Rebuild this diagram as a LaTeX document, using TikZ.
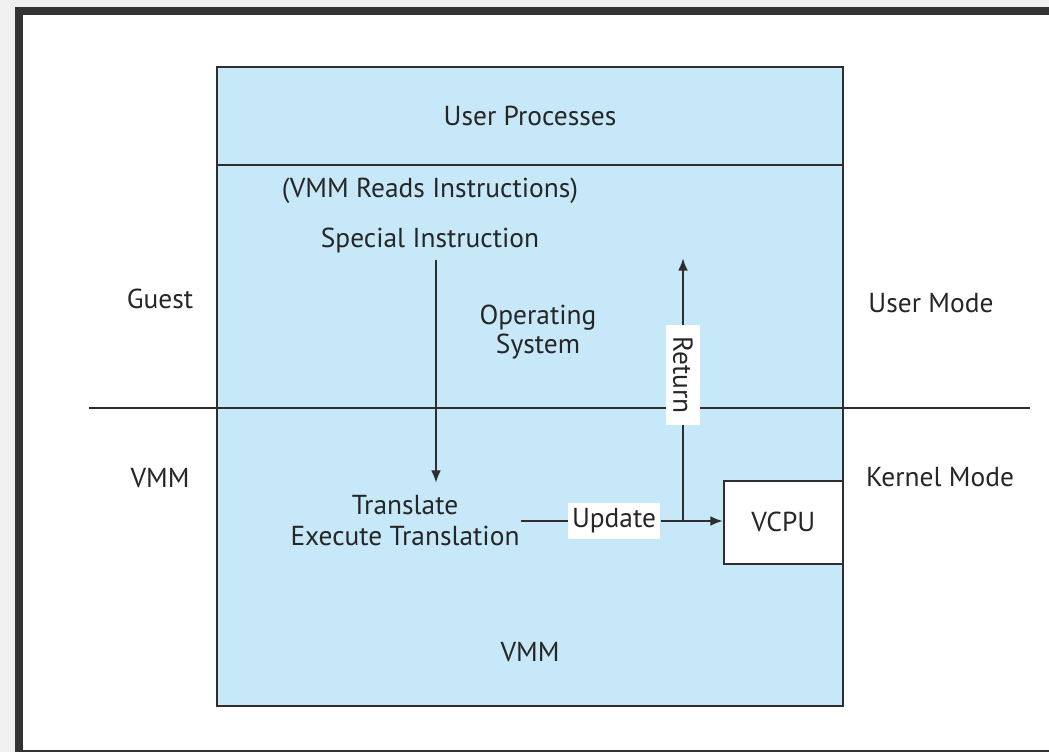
\documentclass[tikz,border=0pt]{standalone}
\usepackage{fontspec}
\setmainfont{PT Sans}
\usetikzlibrary{arrows.meta}
\definecolor{boxblue}{HTML}{C6E8F8}
\definecolor{framegray}{HTML}{333333}
\definecolor{linegray}{HTML}{2E2E2E}
\tikzset{
  lbl/.style={font=\fontsize{19.5}{22}\selectfont, text=black!85, align=center, inner sep=1pt},
  wlbl/.style={lbl, fill=white, inner xsep=3pt, inner ysep=4pt},
  conn/.style={draw=linegray, line width=1.6pt},
  arr/.style={conn, -{Latex[length=9pt,width=7pt]}},
}
\begin{document}
\begin{tikzpicture}[x=0.025cm,y=-0.025cm]
\useasboundingbox (0,0) rectangle (1049,752);
% screenshot surround
\fill[black!6] (0,0) rectangle (1049,752);
\fill[framegray] (15,7) rectangle (1049,752);
\fill[white] (23,15) rectangle (1049,750);
% main box
\node[draw=linegray, line width=1.6pt, fill=boxblue, minimum width=626*0.025cm, minimum height=639*0.025cm, anchor=north west, inner sep=0] (main) at (216,66) {};
\coordinate (sepL) at (216,165);
\coordinate (sepR) at (842,165);
\draw[conn] (sepL) -- (sepR);
% mode line
\coordinate (modeL) at (89,408);
\coordinate (modeR) at (1030,408);
\draw[conn] (modeL) -- (modeR);
% VCPU
\node[draw=linegray, line width=1.2pt, fill=white, minimum width=119*0.025cm, minimum height=83*0.025cm, anchor=north west, inner sep=0] (vcpubox) at (723,480) {};
\node[lbl] (vcpu) at (vcpubox.center) {VCPU};
% texts
\node[lbl] (up) at (530,116) {User Processes};
\node[lbl] (reads) at (430,191) {(VMM Reads Instructions)};
\node[lbl] (special) at (430,240) {Special Instruction};
\node[lbl] (os) at (538,332) {Operating\\[-1pt]System};
\node[lbl] (guest) at (160,299) {Guest};
\node[lbl] (usermode) at (931,303) {User Mode};
\node[lbl] (vmmL) at (160,478) {VMM};
\node[lbl] (kernel) at (940,477) {Kernel Mode};
\node[lbl] (trans) at (405,521) {Translate\\Execute Translation};
\node[lbl] (vmmB) at (530,652) {VMM};
% special -> translate
\coordinate (dTop) at (436,260);
\coordinate (dBot) at (436,483);
\draw[arr] (dTop) -- (dBot);
% update
\node[wlbl] (upd) at (614,521) {Update};
\coordinate (junc) at (683,521);
\draw[conn] (trans.east |- upd) -- (upd.west);
\draw[arr] (upd.east) -- (vcpubox.west |- upd);
% return
\coordinate (retTop) at (683,258);
\node[wlbl, rotate=-90, inner xsep=8pt, inner ysep=5pt] (ret) at (683,375) {Return};
\draw[conn] (junc) -- (ret.east);
\draw[arr] (ret.west) -- (retTop);
\end{tikzpicture}
\end{document}
